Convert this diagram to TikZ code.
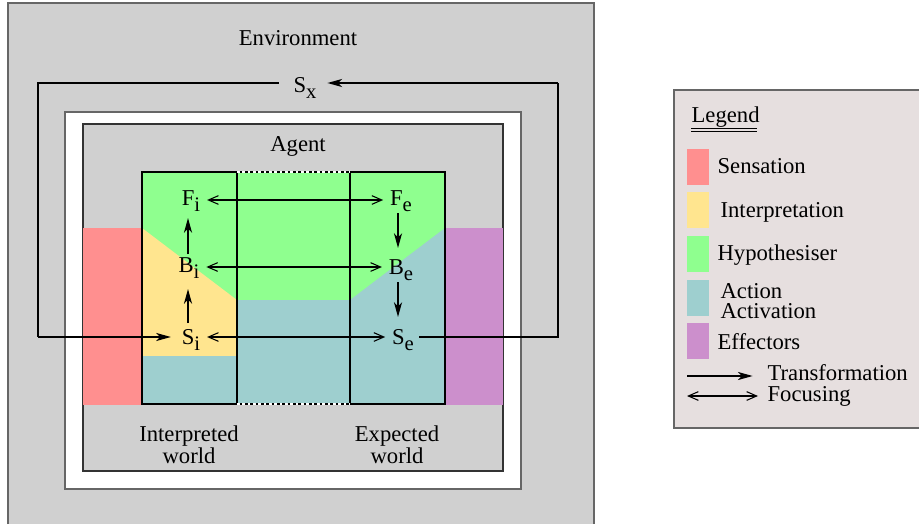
\documentclass[tikz,border=0pt]{standalone}
\usepackage{fontspec}
\setmainfont{Liberation Serif}
\usetikzlibrary{arrows.meta}
\definecolor{envgrey}{HTML}{D0D0D0}
\definecolor{legbg}{HTML}{E6DFDF}
\definecolor{cred}{HTML}{FF8F8F}
\definecolor{cyellow}{HTML}{FFE58F}
\definecolor{cgreen}{HTML}{8FFF8F}
\definecolor{cteal}{HTML}{9ECFCF}
\definecolor{cpurple}{HTML}{CC8FCC}
\definecolor{bordergrey}{HTML}{666666}
\newcommand{\subx}[1]{\raisebox{-0.55ex}{\fontsize{15.5}{15.5}\selectfont #1}}
\tikzset{
  lbl/.style={font=\fontsize{17}{15}\selectfont, inner sep=1pt, align=center},
  sym/.style={font=\fontsize{17}{15}\selectfont, inner sep=2pt},
  trans/.style={line width=1.4pt, -{Stealth[length=11pt,width=6pt,inset=3pt]}},
  focus/.style={line width=0.8pt, {Straight Barb[length=7.5pt,width=6.5pt]}-{Straight Barb[length=7.5pt,width=6.5pt]}},
  loop/.style={line width=1.4pt},
  boxline/.style={line width=1.4pt},
  swatch/.style={draw=none, minimum width=16pt, minimum height=27pt, inner sep=0pt},
}
\begin{document}
\begin{tikzpicture}[x=0.75pt,y=-0.75pt]
\useasboundingbox (0,0) rectangle (919,524);
% environment
\fill[envgrey] (8,3) rectangle (594,524);
\draw[bordergrey, line width=1pt] (8,524) -- (8,3) -- (594,3) -- (594,524);
% white band
\fill[white] (65,112) rectangle (521,489);
\draw[bordergrey, line width=1pt] (65,112) rectangle (521,489);
% agent
\fill[envgrey] (83,124) rectangle (503,471);
\draw[black!80, line width=0.9pt] (83,124) rectangle (503,471);
% sensation / effectors
\fill[cred] (83,228) rectangle (142,405);
\fill[cpurple] (445,228) rectangle (503,405);
% central coloured regions
\fill[cgreen] (142,172) rectangle (445,404);
\fill[cyellow] (142,228) -- (237,300) -- (237,356) -- (142,356) -- cycle;
\fill[cteal] (142,356) rectangle (237,404);
\fill[cteal] (237,300) rectangle (350,404);
\fill[cteal] (350,300) -- (445,228) -- (445,404) -- (350,404) -- cycle;
% boxes
\draw[boxline] (142,172) rectangle (237,404);
\draw[boxline] (350,172) rectangle (445,404);
\draw[white, line width=1pt] (237,172) -- (350,172);
\draw[white, line width=1pt] (237,404) -- (350,404);
\draw[black, line width=1pt, dash pattern=on 2pt off 2pt, dash phase=2pt] (237,172) -- (350,172);
\draw[black, line width=1pt, dash pattern=on 2pt off 2pt, dash phase=2pt] (237,404) -- (350,404);
% labels
\node[lbl] (env) at (298,38) {Environment};
\node[lbl] (agent) at (298,146) {Agent};
\node[lbl] (iw) at (189,445) {Interpreted\\world};
\node[lbl] (ew) at (397,445) {Expected\\world};
% symbols
\node[sym] (Sx) at (305,88) {S\subx{x}};
\node[sym] (Fi) at (191,201) {F\subx{i}};
\node[sym] (Fe) at (401,201) {F\subx{e}};
\node[sym] (Bi) at (189,268) {B\subx{i}};
\node[sym] (Be) at (401,270) {B\subx{e}};
\node[sym] (Si) at (191,340) {S\subx{i}};
\node[sym] (Se) at (403,340) {S\subx{e}};
% loop coordinates
\coordinate (lt) at (38,83);
\coordinate (lb) at (38,337);
\coordinate (rt) at (558,83);
\coordinate (rb) at (558,337);
\draw[loop] (Sx.west |- lt) ++(-12,0) -- (lt) -- (lb);
\draw[trans] (lb) -- ([xshift=-6]Si.west |- lb);
\draw[loop] ([xshift=2]Se.east |- rb) -- (rb) -- (rt);
\draw[trans] (rt) -- ([xshift=6]Sx.east |- rt);
% focusing
\draw[focus] ([xshift=3]Fi.east |- 0,200) -- ([xshift=-3]Fe.west |- 0,200);
\draw[focus] ([xshift=3]Bi.east |- 0,267) -- ([xshift=-3]Be.west |- 0,267);
\draw[focus] ([xshift=3]Si.east |- 0,337) -- ([xshift=-3]Se.west |- 0,337);
% transformations
\draw[trans] (188,323) -- (188,289);
\draw[trans] (188,254) -- (188,218);
\draw[trans] (398,213) -- (398,248);
\draw[trans] (398,282) -- (398,317);
% legend
\fill[legbg] (674,90) rectangle (919,428);
\draw[bordergrey, line width=1pt] (919,428) -- (674,428) -- (674,90) -- (919,90);
\node[lbl, anchor=west] (leg) at (690,117) {Legend};
\draw[line width=0.5pt] (691,128) -- (757,128);
\draw[line width=0.5pt] (691,131) -- (757,131);
\node[swatch, fill=cred, anchor=north west] (s1) at (687,149) {};
\node[swatch, fill=cyellow, anchor=north west] (s2) at (687,192) {};
\node[swatch, fill=cgreen, anchor=north west] (s3) at (687,236) {};
\node[swatch, fill=cteal, anchor=north west] (s4) at (687,280) {};
\node[swatch, fill=cpurple, anchor=north west] (s5) at (687,323) {};
\node[lbl, anchor=west] (t1) at (716,166) {Sensation};
\node[lbl, anchor=west] (t2) at (719,212) {Interpretation};
\node[lbl, anchor=west] (t3) at (716,255) {Hypothesiser};
\node[lbl, anchor=west, align=left, font=\fontsize{17}{15}\selectfont] (t4) at (719,301) {Action\\Activation};
\node[lbl, anchor=west] (t5) at (716,342) {Effectors};
\coordinate (a1) at (687,376);
\coordinate (a2) at (687,396);
\node[lbl, anchor=west] (tt) at (766,373) {Transformation};
\node[lbl, anchor=west] (tf) at (766,396) {Focusing};
\draw[trans] (a1) -- ([xshift=-10]tt.west |- a1);
\draw[focus] (a2) -- ([xshift=-6]tf.west |- a2);
\end{tikzpicture}
\end{document}
